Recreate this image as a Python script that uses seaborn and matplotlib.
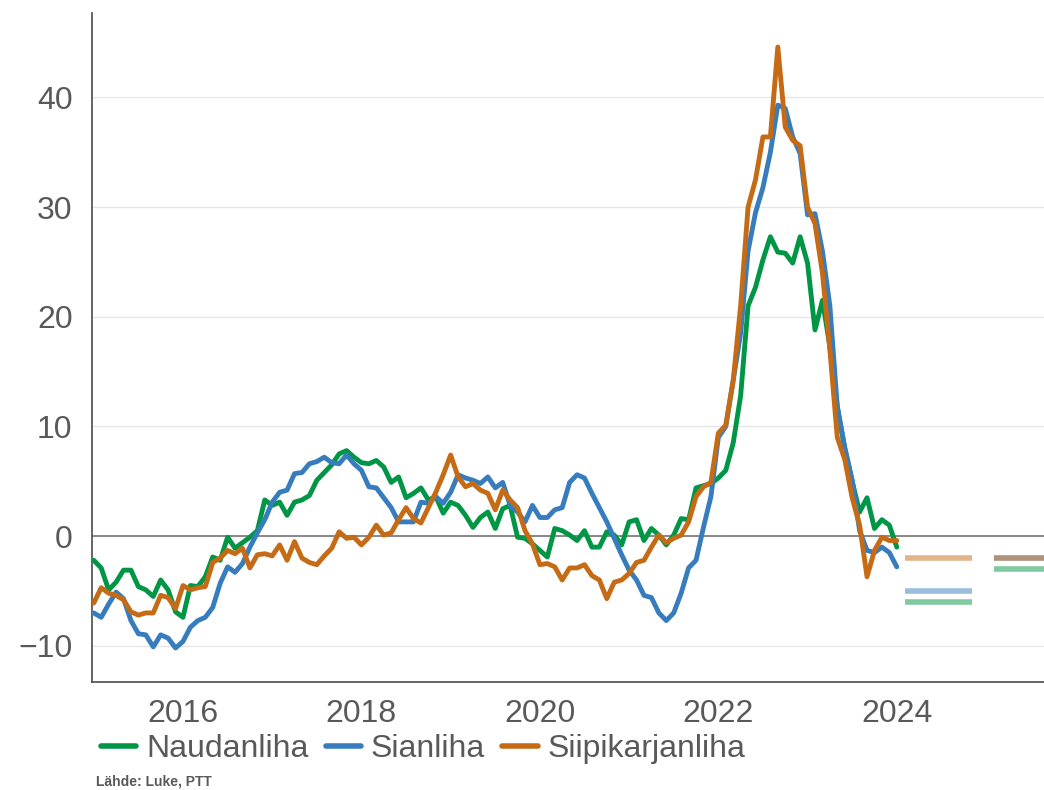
import matplotlib
matplotlib.use('Agg')
import matplotlib.pyplot as plt
import seaborn as sns
import numpy as np
import pandas as pd

# monthly change (%) 2015-01 ... 2024-01
naudanliha = [
    -2.2, -2.9, -4.9, -4.2, -3.1, -3.1, -4.6, -4.9, -5.5, -4.0, -4.9, -6.9,
    -7.4, -4.5, -4.6, -3.7, -1.9, -2.2, -0.1, -1.1, -0.6, -0.1, 0.5, 3.3,
    2.8, 3.1, 1.9, 3.1, 3.3, 3.7, 5.1, 5.8, 6.5, 7.5, 7.8, 7.2,
    6.7, 6.6, 6.9, 6.3, 4.9, 5.4, 3.5, 3.9, 4.4, 3.3, 3.6, 2.1,
    3.1, 2.8, 1.9, 0.8, 1.7, 2.2, 0.7, 2.5, 2.8, -0.1, -0.2, -0.7,
    -1.3, -1.9, 0.7, 0.5, 0.1, -0.4, 0.5, -1.0, -1.0, 0.4, 0.1, -0.8,
    1.3, 1.5, -0.4, 0.7, 0.1, -0.8, 0.1, 1.6, 1.5, 4.4, 4.6, 4.8,
    5.3, 6.0, 8.5, 12.8, 21.0, 22.7, 25.2, 27.3, 25.9, 25.8, 24.9, 27.3,
    24.9, 18.8, 21.5, 17.3, 11.8, 8.0, 5.0, 2.2, 3.5, 0.7, 1.5, 1.0,
    -1.0,
]
sianliha = [
    -7.0, -7.4, -6.2, -5.1, -5.7, -7.7, -8.9, -9.0, -10.1, -9.0, -9.3, -10.2,
    -9.6, -8.3, -7.7, -7.4, -6.5, -4.3, -2.8, -3.3, -2.5, -1.0, 0.3, 1.5,
    3.1, 4.0, 4.2, 5.7, 5.8, 6.6, 6.8, 7.2, 6.7, 6.6, 7.4, 6.6,
    6.0, 4.5, 4.4, 3.5, 2.6, 1.3, 1.3, 1.3, 3.1, 3.0, 3.6, 3.0,
    4.0, 5.6, 5.3, 5.1, 4.8, 5.4, 4.4, 4.9, 2.8, 2.2, 1.3, 2.8,
    1.7, 1.7, 2.4, 2.6, 4.9, 5.6, 5.3, 3.9, 2.6, 1.3, -0.2, -1.7,
    -3.1, -4.0, -5.4, -5.6, -7.0, -7.7, -7.0, -5.2, -2.9, -2.2, 0.8, 3.6,
    9.0, 10.0, 14.2, 18.5, 26.0, 29.5, 31.8, 35.0, 39.3, 39.0, 36.4, 34.9,
    29.3, 29.4, 26.0, 21.0, 11.8, 8.1, 5.1, 0.5, -1.3, -1.5, -1.0, -1.5,
    -2.8,
]
siipikarjanliha = [
    -6.1, -4.7, -5.2, -5.4, -5.8, -6.9, -7.2, -7.0, -7.0, -5.4, -5.6, -6.6,
    -4.5, -4.9, -4.7, -4.6, -2.4, -2.0, -1.3, -1.6, -1.1, -2.9, -1.7, -1.6,
    -1.8, -0.8, -2.2, -0.5, -2.0, -2.4, -2.6, -1.8, -1.1, 0.4, -0.2, -0.1,
    -0.8, -0.1, 1.0, 0.1, 0.3, 1.5, 2.6, 1.6, 1.2, 2.6, 4.0, 5.6,
    7.4, 5.4, 4.5, 4.8, 4.2, 3.9, 2.4, 4.2, 3.3, 2.6, 0.5, -0.7,
    -2.6, -2.5, -2.8, -4.0, -2.9, -2.9, -2.6, -3.6, -4.0, -5.7, -4.2, -4.0,
    -3.4, -2.4, -2.2, -1.0, 0.1, -0.6, -0.2, 0.1, 1.3, 3.6, 4.5, 4.9,
    9.4, 10.1, 14.2, 21.0, 30.0, 32.5, 36.4, 36.4, 44.6, 37.3, 36.1, 35.6,
    30.0, 28.5, 24.0, 17.0, 9.0, 7.0, 3.5, 1.0, -3.7, -1.3, -0.1, -0.4,
    -0.4,
]

series_names = ['Naudanliha', 'Sianliha', 'Siipikarjanliha']
colors = ['#009646', '#377DBE', '#C56A15']

# forecasts for 2024 and 2025
forecast_years = [2024, 2025]
forecast_naudanliha = [-6.0, -3.0]
forecast_sianliha = [-5.0, -2.0]
forecast_siipikarjanliha = [-2.0, -2.0]

x_ticks = [2016, 2018, 2020, 2022, 2024]
y_ticks = [-10, 0, 10, 20, 30, 40]
source_text = 'Lähde: Luke, PTT'

n = len(naudanliha)
t = 2015 + np.arange(n) / 12
df = pd.DataFrame({
    't': np.tile(t, 3),
    'value': naudanliha + sianliha + siipikarjanliha,
    'series': np.repeat(series_names, n),
})

sns.set_style('white')
plt.rcParams['font.family'] = ['Liberation Sans', 'DejaVu Sans']
grey = '#595959'
fs = 23

fig = plt.figure(figsize=(10.44, 7.9), dpi=100)
ax = fig.add_axes([0.0881, 0.1367, 0.9119, 0.8468])

ax.grid(axis='y', color='#E6E6E6', lw=1.0)
ax.axhline(0, color='#808080', lw=1.3, zorder=1)

sns.lineplot(data=df, x='t', y='value', hue='series', palette=colors,
             hue_order=series_names, lw=3.5, ax=ax, legend=False, zorder=3)

# forecast bars
fc = [forecast_naudanliha, forecast_sianliha, forecast_siipikarjanliha]
for vals, c in zip(fc, colors):
    for yr, v in zip(forecast_years, vals):
        ax.hlines(v, yr + 0.09, yr + 0.84, color=c, lw=4, alpha=0.5, zorder=2)

ax.set_xlim(2014.98, 2025.65)
ax.set_ylim(-13.3, 47.7)
ax.set_xticks(x_ticks)
ax.set_yticks(y_ticks)
ax.set_yticklabels([f'{v}'.replace('-', '\u2212') for v in y_ticks])
ax.set_xlabel('')
ax.set_ylabel('')

for s in ['top', 'right']:
    ax.spines[s].set_visible(False)
for s in ['left', 'bottom']:
    ax.spines[s].set_color(grey)
    ax.spines[s].set_linewidth(1.3)

ax.tick_params(axis='y', length=6, width=1.2, color=grey, pad=8, labelsize=fs, labelcolor=grey)
ax.tick_params(axis='x', length=0, pad=12, labelsize=fs, labelcolor=grey)

handles = [plt.Line2D([], [], color=c, lw=4) for c in colors]
fig.legend(handles, series_names, loc='center left', bbox_to_anchor=(0.097, 0.052),
           frameon=False, ncol=3, handlelength=1.1, handletextpad=0.3,
           columnspacing=0.55, borderaxespad=0, borderpad=0,
           prop={'size': fs}, labelcolor=grey)

fig.text(0.092, 0.002, source_text, fontsize=10, fontweight='bold', color=grey,
         ha='left', va='bottom')

fig.savefig('out.png', dpi=100)
